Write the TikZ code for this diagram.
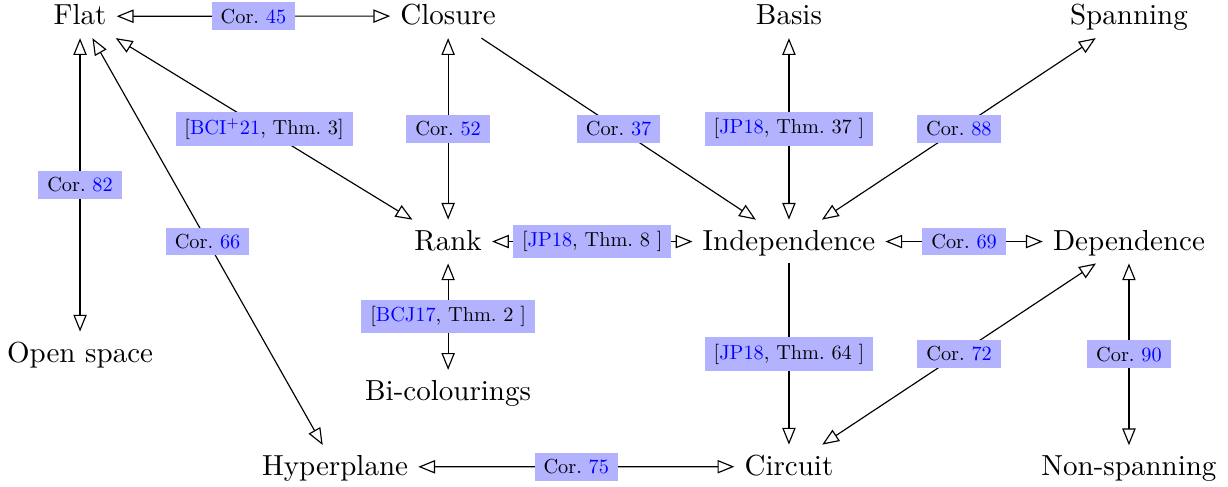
\documentclass[tikz,border=0pt]{standalone}
\usepackage{xcolor}
\usetikzlibrary{arrows.meta}
\newcommand{\corlink}[1]{Cor.~\textcolor{blue}{#1}}
\newcommand{\thmlink}[2]{[\textcolor{blue}{#1}, Thm.~#2]}
\tikzset{
	obj/.style={anchor=base, text depth=.25ex},
	lbl/.style={fill=blue!30, scale=0.7, inner xsep=4.4pt, inner ysep=3.2pt},
	otri/.tip={Triangle[open,length=5.8pt,width=4.6pt]},
	equiv/.style={otri-otri},
	impl/.style={-otri},
}

\begin{document}
\begin{tikzpicture}
			%%%%% START %%%%%
			\useasboundingbox (0, 0) rectangle (14.88, 5.89);
			
			\node[obj] (flat) at (0.97, 5.59) {Flat};
			\node[obj] (closure) at (5.43, 5.59) {Closure};
			\node[obj] (basis) at (9.56, 5.59) {Basis};
			\node[obj] (spanning) at (13.68, 5.59) {Spanning};
			
			\node[obj] (rank) at (5.43, 2.86) {Rank};
			\node[obj] (indep) at (9.56, 2.86) {Independence};
			\node[obj] (dep) at (13.68, 2.86) {Dependence};
			
			\node[obj] (open) at (0.97, 1.50) {Open space};
			\node[obj] (bicol) at (5.43, 1.04) {Bi-colourings};
			
			\node[obj] (hyper) at (4.06, 0.13) {Hyperplane};
			\node[obj] (circuit) at (9.56, 0.13) {Circuit};
			\node[obj] (nonspan) at (13.68, 0.13) {Non-spanning};
			
			\draw[equiv] (flat) -- node[lbl] {\corlink{45}} (closure);
			\draw[equiv] (flat) -- node[lbl] {\corlink{82}} (open);
			\draw[equiv] (flat) -- node[lbl] {\corlink{66}} (hyper);
			\draw[equiv] (flat) -- node[lbl] {[\textcolor{blue}{BCI\textsuperscript{+}21}, Thm.~3]} (rank);
			
			\draw[equiv] (closure) -- node[lbl] {\corlink{52}} (rank);
			\draw[impl] (closure) -- node[lbl] {\corlink{37}} (indep);
			\draw[equiv] (basis) -- node[lbl] {\thmlink{JP18}{37 }} (indep);
			\draw[equiv] (spanning) -- node[lbl] {\corlink{88}} (indep);
			
			\draw[equiv] (rank) -- node[lbl] {\thmlink{JP18}{8 }} (indep);
			\draw[equiv] (indep) -- node[lbl] {\corlink{69}} (dep);
			\draw[equiv] (rank) -- node[lbl] {\thmlink{BCJ17}{2 }} (bicol);
			
			\draw[impl] (indep) -- node[lbl] {\thmlink{JP18}{64 }} (circuit);
			\draw[equiv] (dep) -- node[lbl] {\corlink{72}} (circuit);
			\draw[equiv] (dep) -- node[lbl] {\corlink{90}} (nonspan);
			\draw[equiv] (hyper) -- node[lbl] {\corlink{75}} (circuit);
			
			%%%%% END %%%%%
\end{tikzpicture}
\end{document}
